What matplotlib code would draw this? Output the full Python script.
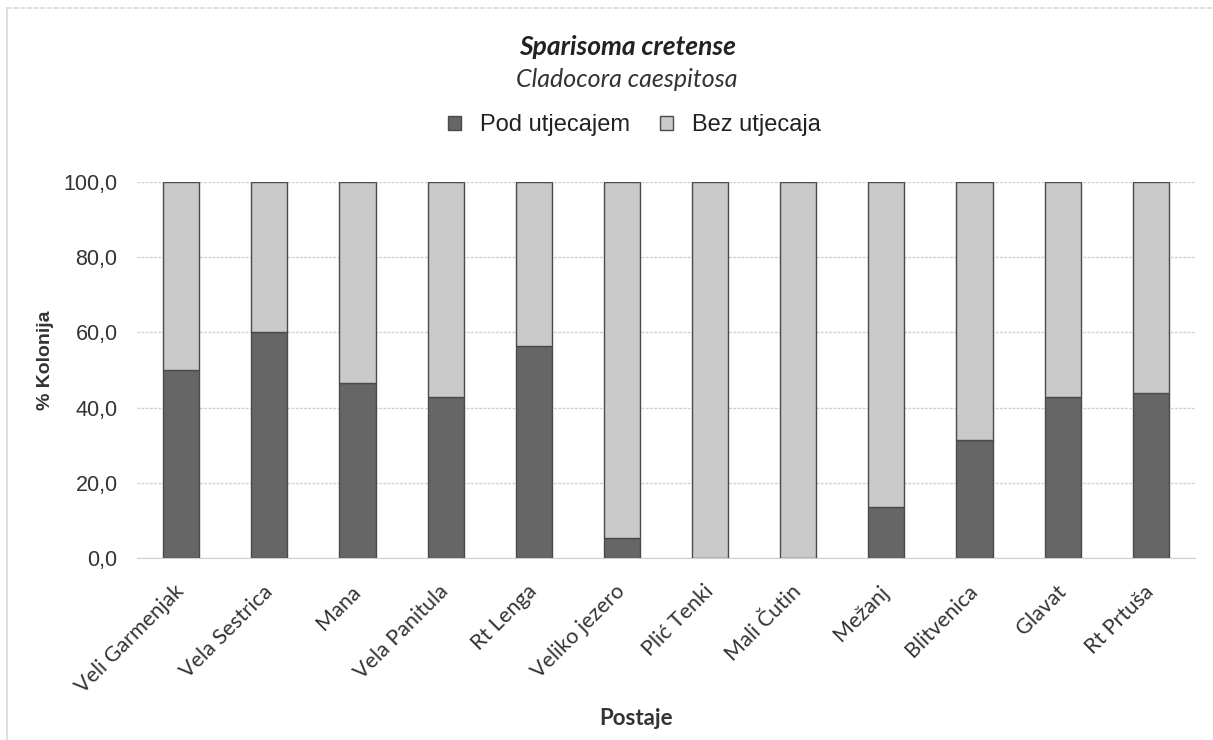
import numpy as np
import matplotlib
matplotlib.use("Agg")
import matplotlib.pyplot as plt
from matplotlib.ticker import FuncFormatter

postaje = ['Veli Garmenjak', 'Vela Sestrica', 'Mana', 'Vela Panitula', 'Rt Lenga',
           'Veliko jezero', 'Plić Tenki', 'Mali Čutin', 'Mežanj', 'Blitvenica',
           'Glavat', 'Rt Prtuša']
pod_utjecajem = [50.0, 60.0, 46.5, 42.9, 56.3, 5.3, 0.0, 0.0, 13.6, 31.4, 42.9, 43.8]
bez_utjecaja = [100.0 - v for v in pod_utjecajem]

plt.rcParams['font.family'] = ['Liberation Sans', 'DejaVu Sans']
calibri_like = ['Lato', 'DejaVu Sans']

fig = plt.figure(figsize=(12.13, 7.40), dpi=100)
ax = fig.add_axes([0.113, 0.246, 0.872, 0.508])

x = np.arange(len(postaje))
ax.bar(x, pod_utjecajem, width=0.41, color='#666666', edgecolor='#4a4a4a',
       linewidth=1.0, label='Pod utjecajem', zorder=3)
ax.bar(x, bez_utjecaja, width=0.41, bottom=pod_utjecajem, color='#cacaca',
       edgecolor='#4a4a4a', linewidth=1.0, label='Bez utjecaja', zorder=3)

ax.set_xlim(-0.5, len(postaje) - 0.5)
ax.set_ylim(0, 100)
ax.set_yticks(np.arange(0, 101, 20))
ax.yaxis.set_major_formatter(FuncFormatter(lambda v, p: f'{v:.1f}'.replace('.', ',')))
ax.grid(axis='y', color='#d0d0d0', linestyle=(0, (2, 1)), linewidth=1.0, zorder=0)
for s in ['top', 'right', 'left']:
    ax.spines[s].set_visible(False)
ax.spines['bottom'].set_color('#d0d0d0')
ax.tick_params(axis='y', length=0, labelsize=15.5, colors='#333333', pad=14)
ax.tick_params(axis='x', length=0, colors='#333333', pad=22)
ax.set_xticks(x)
ax.set_xticklabels(postaje, rotation=45, ha='right', va='center',
                   rotation_mode='anchor', fontsize=15.5, family=calibri_like)

ax.set_ylabel('% Kolonija', fontsize=14, fontweight='bold', color='#333333')
ax.yaxis.set_label_coords(-0.079, 0.527)
ax.set_xlabel('Postaje', fontsize=16, fontweight='bold', color='#333333',
              family=calibri_like)
ax.xaxis.set_label_coords(0.472, -0.4)

fig.text(0.517, 0.937, 'Sparisoma cretense', ha='center', va='center', fontsize=19,
         fontweight='bold', style='italic', family=calibri_like, color='#222222')
fig.text(0.517, 0.893, 'Cladocora caespitosa', ha='center', va='center', fontsize=18,
         style='italic', family=calibri_like, color='#333333')

fig.legend(loc='center', bbox_to_anchor=(0.523, 0.831), ncol=2, frameon=False,
           fontsize=17, handlelength=0.55, handleheight=0.55, columnspacing=1.3,
           handletextpad=0.8, labelcolor='#222222')

# rubni okvir (samo gore i lijevo)
fig.add_artist(plt.Line2D([0.006, 1.0], [0.989, 0.989], transform=fig.transFigure,
                          color='#d9d9d9', linewidth=1.2, linestyle=(0, (3, 1))))
fig.add_artist(plt.Line2D([0.006, 0.006], [0.0, 0.989], transform=fig.transFigure,
                          color='#d9d9d9', linewidth=1.2))

fig.savefig('out.png', dpi=100)
